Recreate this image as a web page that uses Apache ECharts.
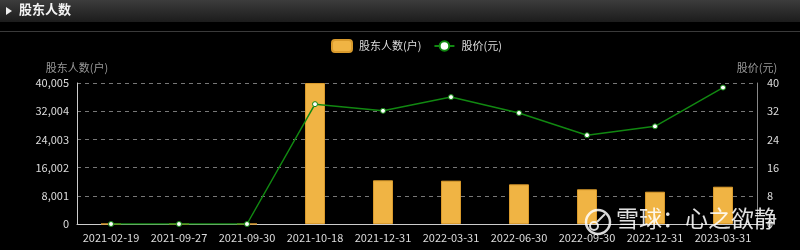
<!DOCTYPE html>
<html><head><meta charset="utf-8">
<script src="https://cdn.jsdelivr.net/npm/echarts@6/dist/echarts.min.js"></script>
<style>html,body{margin:0;padding:0;background:#000;}#c{width:800px;height:250px;}</style>
</head><body><div id="c"></div>
<script>
const categories = ['2021-02-19','2021-09-27','2021-09-30','2021-10-18','2021-12-31','2022-03-31','2022-06-30','2022-09-30','2022-12-31','2023-03-31'];
const holders = [0, 0, 0, 40005, 12400, 12290, 11260, 9850, 9160, 10580];
const prices = [0, 0, 0, 34.0, 32.1, 36.0, 31.5, 25.2, 27.7, 38.7];
const leftMax = 40005, leftInterval = 8001;
const rightMax = 40, rightInterval = 8;

const font = '"Noto Sans CJK SC", "DejaVu Sans", sans-serif';
const chart = echarts.init(document.getElementById('c'), null, {renderer: 'canvas'});
chart.setOption({
  backgroundColor: '#000',
  animation: false,
  textStyle: {fontFamily: font},
  graphic: [
    {type: 'rect', left: 0, top: 0, shape: {width: 800, height: 22},
     style: {fill: new echarts.graphic.LinearGradient(0,0,0,1,[{offset:0,color:'#3c3c3c'},{offset:1,color:'#1c1c1c'}])}},
    {type: 'line', shape: {x1: 0, y1: 31.5, x2: 800, y2: 31.5}, style: {stroke: '#3a3a3a', lineWidth: 1}},
    {type: 'polygon', shape: {points: [[6,7],[6,15],[12,11]]}, style: {fill: '#eee'}},
    {type: 'text', left: 19, top: 3, style: {text: '股东人数', fill: '#f2f2f2', font: 'bold 13px ' + font}},
    {type: 'circle', shape: {cx: 598, cy: 222, r: 12}, style: {fill: 'none', stroke: 'rgba(255,255,255,0.85)', lineWidth: 2.5}, z: 100},
    {type: 'circle', shape: {cx: 594, cy: 226, r: 4}, style: {fill: 'none', stroke: 'rgba(255,255,255,0.85)', lineWidth: 2}, z: 100},
    {type: 'line', shape: {x1: 597, y1: 222, x2: 605, y2: 214}, style: {stroke: 'rgba(255,255,255,0.85)', lineWidth: 2}, z: 100},
    {type: 'text', left: 616, top: 207, style: {text: '雪球：心之欲静', fill: 'rgba(255,255,255,0.88)', font: '23px ' + font}, z: 100}
  ],
  legend: {
    top: 34, left: 326,
    itemWidth: 20, itemHeight: 12, itemGap: 12,
    textStyle: {color: '#ddd', fontSize: 11, fontFamily: font, padding: [0, 0, 0, 2]},
    data: [{name: '股东人数(户)', icon: 'roundRect'}, {name: '股价(元)'}]
  },
  grid: {left: 77, right: 43, top: 83, bottom: 26},
  xAxis: {
    type: 'category', data: categories,
    axisLine: {lineStyle: {color: '#ccc'}},
    axisTick: {show: false},
    axisLabel: {color: '#ddd', fontSize: 11, margin: 8, interval: 0}
  },
  yAxis: [
    {type: 'value', name: '股东人数(户)', min: 0, max: leftMax, interval: leftInterval,
     nameTextStyle: {color: '#999', fontSize: 11, padding: [0, 0, 0, 0]}, nameGap: 10,
     axisLine: {show: true, lineStyle: {color: '#ccc'}}, axisTick: {show: false},
     axisLabel: {color: '#ddd', fontSize: 11, formatter: v => v.toLocaleString('en-US')},
     splitLine: {lineStyle: {color: '#777', type: [4, 4]}}},
    {type: 'value', name: '股价(元)', min: 0, max: rightMax, interval: rightInterval,
     nameTextStyle: {color: '#999', fontSize: 11, padding: [0, 0, 0, 0]}, nameGap: 10,
     axisLine: {show: true, lineStyle: {color: '#888'}}, axisTick: {show: false},
     axisLabel: {color: '#ddd', fontSize: 11, margin: 10},
     splitLine: {show: false}}
  ],
  series: [
    {name: '股东人数(户)', type: 'bar', data: holders, barWidth: 20, yAxisIndex: 0,
     itemStyle: {color: '#f0b444', borderColor: '#d99a2c', borderWidth: 1}},
    {name: '股价(元)', type: 'line', data: prices, yAxisIndex: 1,
     symbol: 'circle', symbolSize: 5, showAllSymbol: true,
     lineStyle: {color: '#118811', width: 1.5},
     itemStyle: {color: '#fff', borderColor: '#118811', borderWidth: 1}}
  ]
});
</script></body></html>
